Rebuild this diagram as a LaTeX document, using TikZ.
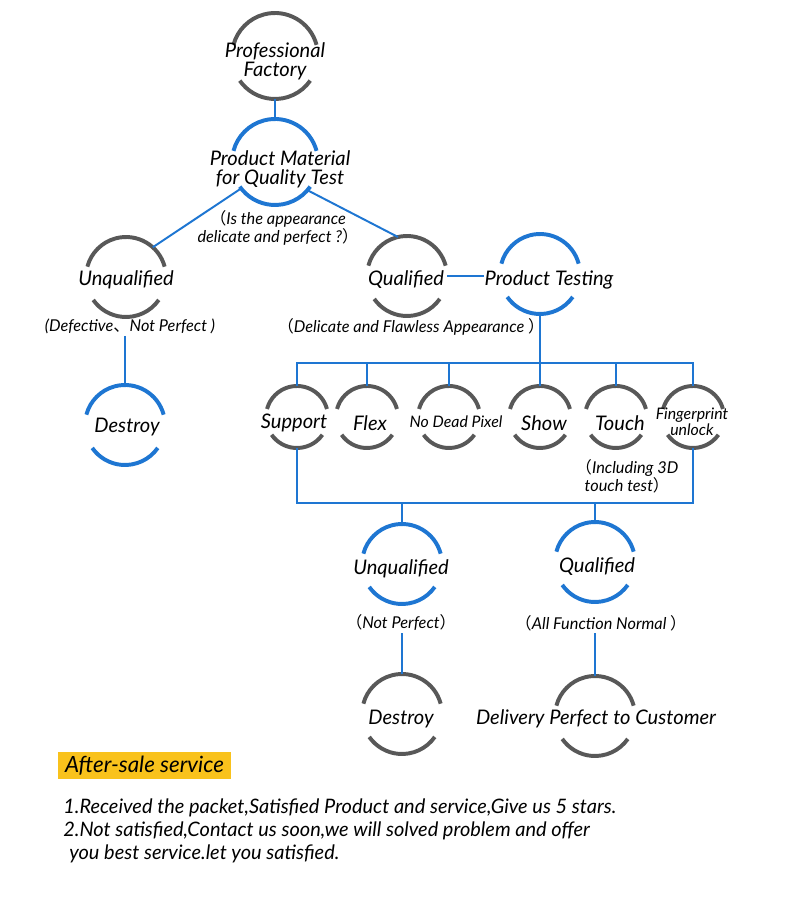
\documentclass[tikz,border=0pt]{standalone}
\usepackage{fontspec}
\setmainfont{Lato}
\newfontfamily\cjk{Noto Sans CJK SC}
\usepackage{tikz}
\definecolor{ringblue}{RGB}{30,118,210}
\definecolor{ringgray}{RGB}{88,88,88}
\definecolor{tagyellow}{RGB}{249,194,28}

\begin{document}
\begin{tikzpicture}[scale=0.25]
\tikzstyle{every node}+=[inner sep=0pt, font=\itshape]
\tikzstyle{bigring}=[circle, outer sep=0pt, minimum size=2.15cm]
\tikzstyle{ring}=[circle, outer sep=0pt, minimum size=2cm]
\tikzstyle{smallring}=[circle, outer sep=0pt, minimum size=1.55cm]
\tikzstyle{blue arc}=[ringblue, line width=2.8pt]
\tikzstyle{gray arc}=[ringgray, line width=2.8pt]
\tikzstyle{link}=[ringblue, line width=1.4pt]
\tikzstyle{lbl}=[align=center, yshift=-0.5mm, font=\itshape\fontsize{14.3}{13.5}\selectfont]
\tikzstyle{small lbl}=[align=center, font=\itshape\fontsize{11.3}{9.5}\selectfont]
\tikzstyle{note}=[align=center, inner sep=1.5pt, yshift=-0.25mm, font=\itshape\fontsize{11.6}{12.8}\selectfont]
\tikzstyle{tag}=[fill=tagyellow, minimum width=4.33cm, minimum height=0.675cm, font=\itshape\fontsize{15.9}{17}\selectfont]
\useasboundingbox (0,0) rectangle (80,-90.1);
% top of the tree
\node [bigring] (pf) at (27.5,-5.6) {};
\draw [gray arc] (pf.15) arc (15:165:4.3) (pf.-35) arc (-35:-145:4.3);
\node [lbl] (pft) at (27.5,-5.95) {Professional\\Factory};
\node [bigring] (pm) at (27.5,-16.2) {};
\draw [blue arc] (pm.15) arc (15:165:4.3) (pm.-35) arc (-35:-145:4.3);
\node [lbl] (pmt) at (28,-16.75) {Product Material\\for Quality Test};
\node [note] (pmn) at (27.8,-22.7) {{\cjk （}Is the appearance\\delicate and perfect ?{\cjk ）}};
% first answer
\node [ring] (uq1) at (12.6,-27.7) {};
\draw [gray arc] (uq1.15) arc (15:165:4) (uq1.-35) arc (-35:-145:4);
\node [lbl] (uq1t) at (12.6,-27.8) {Unqualified};
\node [note] (uq1n) at (13,-32.5) {(Defective{\cjk 、}Not Perfect )};
\node [ring] (de1) at (12.5,-42.5) {};
\draw [blue arc] (de1.15) arc (15:165:4) (de1.-35) arc (-35:-145:4);
\node [lbl] (de1t) at (12.7,-42.5) {Destroy};
\node [ring] (q1) at (40.7,-27.6) {};
\draw [gray arc] (q1.15) arc (15:165:4) (q1.-35) arc (-35:-145:4);
\node [lbl] (q1t) at (40.6,-27.8) {Qualified};
\node [note] (q1n) at (41.1,-32.6) {{\cjk （}Delicate and Flawless Appearance {\cjk ）}};
\node [ring] (pt) at (54,-27.4) {};
\draw [blue arc] (pt.15) arc (15:165:4) (pt.-35) arc (-35:-145:4);
\node [lbl] (ptt) at (54.9,-27.8) {Product Testing};
% tests
\node [smallring] (su) at (29.7,-41.7) {};
\draw [gray arc] (su.15) arc (15:165:3.1) (su.-35) arc (-35:-145:3.1);
\node [lbl] (sut) at (29.4,-42.1) {Support};
\node [smallring] (fl) at (36.7,-41.7) {};
\draw [gray arc] (fl.15) arc (15:165:3.1) (fl.-35) arc (-35:-145:3.1);
\node [lbl] (flt) at (37,-42.1) {Flex};
\node [smallring] (nd) at (44.9,-41.7) {};
\draw [gray arc] (nd.15) arc (15:165:3.1) (nd.-35) arc (-35:-145:3.1);
\node [small lbl] (ndt) at (45.6,-42.2) {No Dead Pixel};
\node [smallring] (sh) at (54,-41.7) {};
\draw [gray arc] (sh.15) arc (15:165:3.1) (sh.-35) arc (-35:-145:3.1);
\node [lbl] (sht) at (54.4,-42.1) {Show};
\node [smallring] (to) at (61.6,-41.7) {};
\draw [gray arc] (to.15) arc (15:165:3.1) (to.-35) arc (-35:-145:3.1);
\node [lbl] (tot) at (62,-42.1) {Touch};
\node [note] (ton) at (62.7,-47.5) {{\cjk （}Including 3D\\touch test{\cjk ）}};
\node [smallring] (fp) at (69.3,-41.7) {};
\draw [gray arc] (fp.15) arc (15:165:3.1) (fp.-35) arc (-35:-145:3.1);
\node [small lbl] (fpt) at (69.2,-42.15) {Fingerprint\\unlock};
% results
\node [ring] (uq2) at (40.2,-56.4) {};
\draw [blue arc] (uq2.15) arc (15:165:4) (uq2.-35) arc (-35:-145:4);
\node [lbl] (uq2t) at (40.1,-56.7) {Unqualified};
\node [note] (uq2n) at (40.1,-62.2) {{\cjk （}Not Perfect{\cjk ）}};
\node [ring] (de2) at (40.2,-71.4) {};
\draw [gray arc] (de2.15) arc (15:165:4) (de2.-35) arc (-35:-145:4);
\node [lbl] (de2t) at (40.1,-71.7) {Destroy};
\node [ring] (q2) at (59.5,-56.2) {};
\draw [blue arc] (q2.15) arc (15:165:4) (q2.-35) arc (-35:-145:4);
\node [lbl] (q2t) at (59.7,-56.5) {Qualified};
\node [note] (q2n) at (60.1,-62.2) {{\cjk （}All Function Normal {\cjk ）}};
\node [ring] (dl) at (59.5,-71.6) {};
\draw [gray arc] (dl.15) arc (15:165:4) (dl.-35) arc (-35:-145:4);
\node [lbl] (dlt) at (59.6,-71.7) {Delivery Perfect to Customer};
% connectors
\coordinate (b1) at (54,-36.3);
\coordinate (b2) at (40.2,-50.3);
\coordinate (b3) at (59.5,-50.3);
\draw [link] (pf) -- (pm);
\draw [link] (pm.-142) -- (uq1.48);
\draw [link] (pm.-41) -- (q1.103);
\draw [link] (q1.east) -- (q1.east -| ptt.west);
\draw [link] (uq1n.south -| de1.north) -- (de1.north);
\draw [link] (pt.south) -- (b1);
\draw [link] (su.north) |- (b1) -| (fp.north);
\draw [link] (fl.north) -- (fl.north |- b1);
\draw [link] (nd.north) -- (nd.north |- b1);
\draw [link] (b1) -- (sh.north);
\draw [link] (to.north) -- (to.north |- b1);
\draw [link] (su.south) |- (fp.south |- b2) -- (fp.south);
\draw [link] (b2) -- (uq2.north);
\draw [link] (b3) -- (q2.north);
\draw [link] (uq2n.south -| de2.north) -- (de2.north);
\draw [link] (q2n.south -| dl.north) -- (dl.north);
% after-sale
\node [tag] (as) at (14.45,-76.55) {After-sale service};
\node [anchor=north west, align=left, font=\itshape\fontsize{14.2}{16.4}\selectfont] (asn) at (6.3,-79.85) {1.Received the packet,Satisfied Product and service,Give us 5 stars.\\2.Not satisfied,Contact us soon,we will solved problem and offer\\\hspace{0.3em}you best service.let you satisfied.};
\end{tikzpicture}
\end{document}
